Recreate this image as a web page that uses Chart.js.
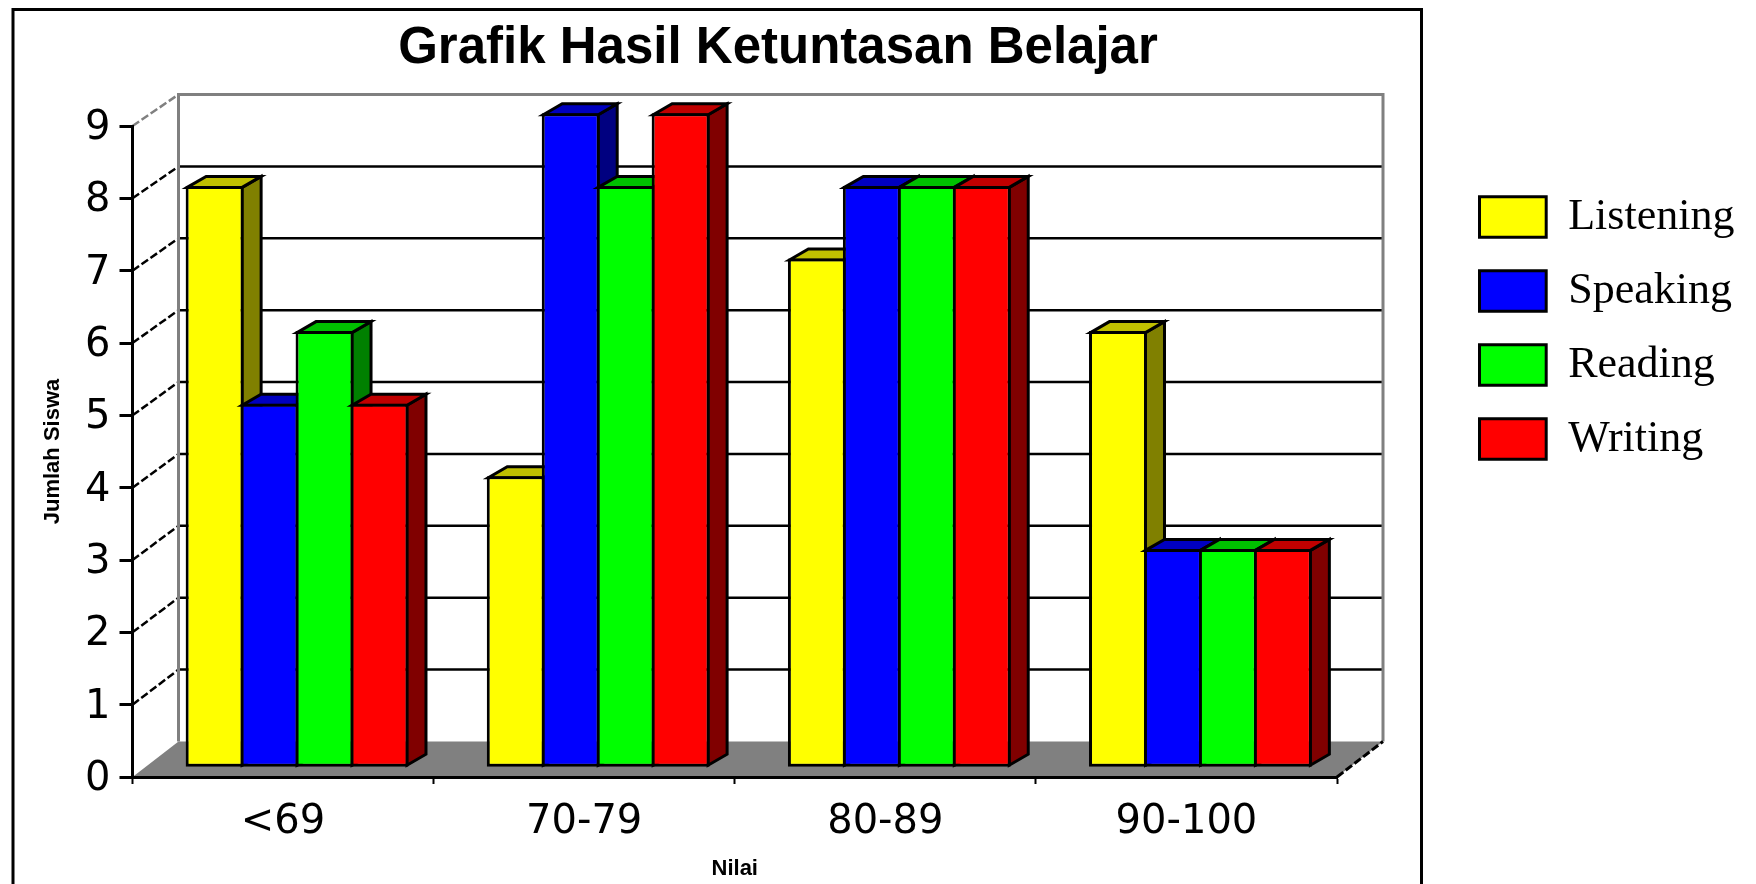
<!DOCTYPE html>
<html>
<head>
<meta charset="utf-8">
<title>Grafik Hasil Ketuntasan Belajar</title>
<script src="https://cdn.jsdelivr.net/npm/chart.js@4"></script>
<style>
    html, body { margin: 0; padding: 0; background: #fff; overflow: hidden; }
    #wrap { width: 1756px; height: 884px; }
</style>
</head>
<body>
<div id="wrap"><canvas id="nilaiChart" width="1756" height="884"></canvas></div>
<script>
const categories = ['<69', '70-79', '80-89', '90-100'];
const listening = [8, 4, 7, 6];
const speaking = [5, 9, 8, 3];
const reading = [6, 8, 8, 3];
const writing = [5, 9, 8, 3];

const sans = '"Liberation Sans", Arial, sans-serif';
const tickFont = '"DejaVu Sans", Verdana, sans-serif';
const serif = '"Liberation Serif", "Times New Roman", serif';

// how far the back wall and the bars sit behind the axes
const wallShift = { x: 46, y: -33 };
const barShift = { x: 14, y: -10.3 };
const barDepth = { x: 19, y: -11 };

function series(label, values, front, top, side) {
    return {
        label: label,
        data: values,
        yAxisID: 'barY',
        backgroundColor: front,
        borderColor: '#000',
        borderWidth: 3,
        borderSkipped: false,
        topColor: top,
        sideColor: side,
        barPercentage: 1.055,
        categoryPercentage: 0.73
    };
}

function poly(ctx, points, fill) {
    ctx.beginPath();
    points.forEach((p, i) => i ? ctx.lineTo(p[0], p[1]) : ctx.moveTo(p[0], p[1]));
    ctx.closePath();
    if (fill) {
        ctx.fillStyle = fill;
        ctx.fill();
    }
    ctx.stroke();
}

const cabinet = {
    id: 'cabinet',
    afterLayout(chart) {
        // the legend and title do not sit where the layout would put them
        chart.legend.left = 1449.5;
        chart.legend.right = 1756;
        chart.legend.top = 165;
        chart.titleBlock.left = 13;
        chart.titleBlock.right = 1543;
    },
    beforeDraw(chart) {
        const ctx = chart.ctx;
        const yScale = chart.scales.y;
        const wall = chart.scales.wall;
        const area = chart.chartArea;
        const dx = wallShift.x, dy = wallShift.y;

        ctx.save();
        // outer frame, runs off the bottom of the picture
        ctx.strokeStyle = '#000';
        ctx.lineWidth = 3;
        ctx.strokeRect(13, 9.5, 1408.5, 900);

        // floor
        const frontY = yScale.getPixelForValue(0);
        const backY = wall.getPixelForValue(0) + dy;
        const topY = wall.getPixelForValue(9) + dy;
        ctx.fillStyle = '#808080';
        ctx.beginPath();
        ctx.moveTo(area.left, frontY);
        ctx.lineTo(area.left + dx, backY);
        ctx.lineTo(area.right + dx, backY);
        ctx.lineTo(area.right, frontY);
        ctx.closePath();
        ctx.fill();

        // grid on the wall and the slanted lines down the side
        yScale.ticks.forEach(tick => {
            if (tick.value === 0) return;
            const y = yScale.getPixelForValue(tick.value);
            const wallY = wall.getPixelForValue(tick.value) + dy;
            ctx.strokeStyle = tick.value === 9 ? '#808080' : '#000';
            ctx.lineWidth = 2.5;
            ctx.setLineDash([]);
            ctx.beginPath();
            ctx.moveTo(area.left + dx, wallY);
            ctx.lineTo(area.right + dx, wallY);
            ctx.stroke();
            ctx.setLineDash([8, 3]);
            ctx.beginPath();
            ctx.moveTo(area.left, y);
            ctx.lineTo(area.left + dx, wallY);
            ctx.stroke();
        });

        // wall sides
        ctx.setLineDash([]);
        ctx.strokeStyle = '#808080';
        ctx.lineWidth = 3;
        ctx.beginPath();
        ctx.moveTo(area.left + dx, backY);
        ctx.lineTo(area.left + dx, topY);
        ctx.lineTo(area.right + dx, topY);
        ctx.lineTo(area.right + dx, backY);
        ctx.stroke();

        // front right edge of the floor
        ctx.strokeStyle = '#000';
        ctx.setLineDash([8, 3]);
        ctx.beginPath();
        ctx.moveTo(area.right, frontY);
        ctx.lineTo(area.right + dx, backY);
        ctx.stroke();
        ctx.restore();
    },
    beforeDatasetsDraw(chart) {
        const ctx = chart.ctx;
        ctx.save();
        ctx.translate(barShift.x, barShift.y);
        // left to right so each bar covers the side of the one before it
        chart.data.datasets.forEach((dataset, i) => {
            const meta = chart.getDatasetMeta(i);
            ctx.strokeStyle = '#000';
            ctx.lineWidth = 3;
            ctx.lineJoin = 'miter';
            meta.data.forEach(bar => {
                const left = bar.x - bar.width / 2 + 1.5;
                const right = bar.x + bar.width / 2 - 1.5;
                const top = bar.y + 1.5;
                const base = bar.base - 1.5;
                const dx = barDepth.x, dy = barDepth.y;
                poly(ctx, [[right, top], [right + dx, top + dy], [right + dx, base + dy], [right, base]], dataset.sideColor);
                poly(ctx, [[left, top], [left + dx, top + dy], [right + dx, top + dy], [right, top]], dataset.topColor);
            });
            meta.controller.draw();
        });
        ctx.restore();
        return false;
    }
};

new Chart(document.getElementById('nilaiChart').getContext('2d'), {
    type: 'bar',
    plugins: [cabinet],
    data: {
        labels: categories,
        datasets: [
            series('Listening', listening, '#ffff00', '#c0c000', '#808000'),
            series('Speaking', speaking, '#0000ff', '#0000c0', '#000080'),
            series('Reading', reading, '#00ff00', '#00c000', '#008000'),
            series('Writing', writing, '#ff0000', '#c00000', '#800000')
        ]
    },
    options: {
        responsive: false,
        animation: false,
        layout: { padding: { left: 0, right: 149, top: 0, bottom: 0 } },
        plugins: {
            tooltip: { enabled: false },
            title: {
                display: true,
                text: 'Grafik Hasil Ketuntasan Belajar',
                color: '#000',
                font: { family: sans, size: 51, weight: 'bold' },
                padding: { top: 18, bottom: 46.8 }
            },
            legend: {
                position: 'right',
                align: 'start',
                maxWidth: 270,
                labels: {
                    boxWidth: 66.7,
                    boxHeight: 40.5,
                    padding: 30,
                    color: '#000',
                    font: { family: serif, size: 44 }
                }
            }
        },
        scales: {
            x: {
                afterFit(scale) { scale.height = 107; },
                grid: { drawOnChartArea: false, tickColor: '#000', tickWidth: 2, tickLength: 7 },
                border: { color: '#000', width: 3 },
                ticks: { color: '#000', font: { family: tickFont, size: 40 }, padding: 15, maxRotation: 0 },
                title: {
                    display: true,
                    text: 'Nilai',
                    color: '#000',
                    font: { family: sans, size: 22, weight: 'bold' },
                    padding: { top: 0, bottom: 2 }
                }
            },
            y: {
                min: 0,
                max: 9,
                afterFit(scale) { scale.width = 132.5; },
                grid: { drawOnChartArea: false, tickColor: '#000', tickWidth: 3, tickLength: 13 },
                border: { color: '#000', width: 3 },
                ticks: { stepSize: 1, color: '#000', font: { family: tickFont, size: 40 }, padding: 9, labelOffset: 2.5 },
                title: {
                    display: true,
                    text: 'Jumlah Siswa',
                    color: '#000',
                    font: { family: sans, size: 22, weight: 'bold' },
                    padding: { top: 40, bottom: 0 }
                }
            },
            // the wall and the bars have a slightly different pitch from the front axis
            wall: { axis: 'y', type: 'linear', display: false, min: -0.035, max: 9.021 },
            barY: { axis: 'y', type: 'linear', display: false, min: 0, max: 8.967 }
        }
    }
});
</script>
</body>
</html>
